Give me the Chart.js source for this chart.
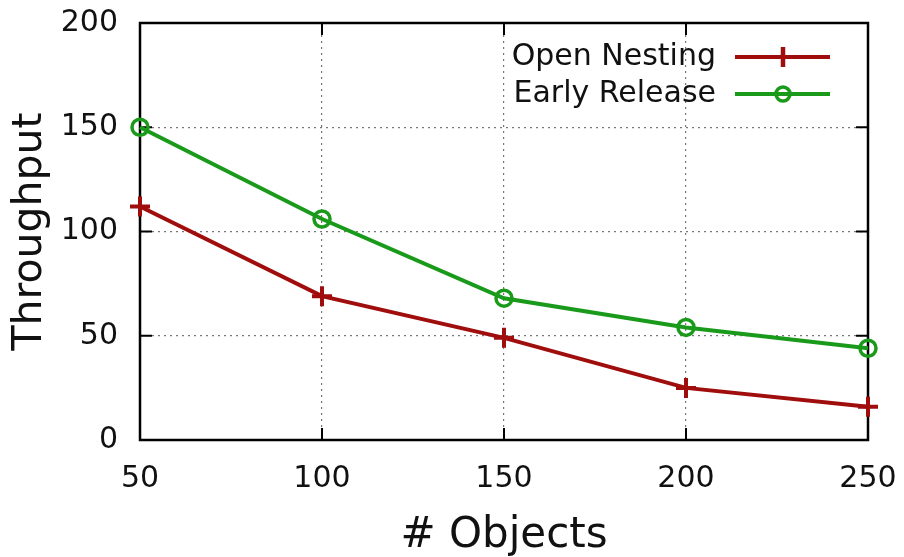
<!DOCTYPE html>
<html>
<head>
<meta charset="utf-8">
<script src="https://cdn.jsdelivr.net/npm/chart.js@4/dist/chart.umd.min.js"></script>
<style>
html,body{margin:0;padding:0;background:#fff;}
#wrap{width:904px;height:557px;position:relative;}
</style>
</head>
<body>
<div id="wrap"><canvas id="c" width="904" height="557"></canvas></div>
<script>
const objects = [50, 100, 150, 200, 250];
const openNesting = [112, 69, 49, 25, 16];
const earlyRelease = [150, 106, 68, 54, 44];
const seriesNames = ["Open Nesting", "Early Release"];
const xTicks = [50, 100, 150, 200, 250];
const yTicks = [0, 50, 100, 150, 200];

const FONT = "'DejaVu Sans', sans-serif";
const RED = '#a00d0d';
const GREEN = '#1a9a1a';

const frame = {
  id: 'frame',
  beforeDatasetsDraw(chart) {
    const {ctx, chartArea: a, scales: {x, y}} = chart;
    ctx.save();
    ctx.strokeStyle = '#000';
    ctx.lineWidth = 2;
    ctx.beginPath();
    xTicks.forEach(v => {
      const px = x.getPixelForValue(v);
      ctx.moveTo(px, a.bottom); ctx.lineTo(px, a.bottom - 12);
      ctx.moveTo(px, a.top); ctx.lineTo(px, a.top + 12);
    });
    yTicks.forEach(v => {
      const py = y.getPixelForValue(v);
      ctx.moveTo(a.left, py); ctx.lineTo(a.left + 12, py);
      ctx.moveTo(a.right, py); ctx.lineTo(a.right - 12, py);
    });
    ctx.stroke();
    ctx.lineWidth = 2.5;
    ctx.strokeRect(a.left, a.top, a.right - a.left, a.bottom - a.top);
    ctx.restore();
  },
  afterDatasetsDraw(chart) {
    const ctx = chart.ctx;
    ctx.save();
    ctx.font = "30px " + FONT;
    ctx.textAlign = 'right';
    ctx.textBaseline = 'middle';
    const rows = [57, 94];
    chart.data.datasets.forEach((ds, i) => {
      const yy = rows[i];
      ctx.fillStyle = '#111';
      ctx.fillText(ds.label, 716, yy);
      ctx.strokeStyle = ds.borderColor;
      ctx.lineWidth = 4;
      ctx.beginPath(); ctx.moveTo(735, yy); ctx.lineTo(830, yy); ctx.stroke();
      if (i === 0) {
        ctx.lineWidth = 4.5;
        ctx.beginPath(); ctx.moveTo(783, yy - 10); ctx.lineTo(783, yy + 10); ctx.stroke();
      } else {
        ctx.lineWidth = 3.5;
        ctx.beginPath(); ctx.arc(783, yy, 7, 0, Math.PI * 2); ctx.stroke();
      }
    });
    ctx.restore();
  }
};

new Chart(document.getElementById('c'), {
  type: 'line',
  data: {
    datasets: [
      {
        label: seriesNames[0],
        data: objects.map((v, i) => ({x: v, y: openNesting[i]})),
        borderColor: RED, backgroundColor: RED,
        borderWidth: 4, pointStyle: 'cross', pointRadius: 10,
        pointBorderWidth: 4, pointHoverRadius: 10, tension: 0, clip: false
      },
      {
        label: seriesNames[1],
        data: objects.map((v, i) => ({x: v, y: earlyRelease[i]})),
        borderColor: GREEN, backgroundColor: 'rgba(0,0,0,0)',
        borderWidth: 4, pointStyle: 'circle', pointRadius: 8,
        pointBorderWidth: 3.5, pointHoverRadius: 8, tension: 0, clip: false
      }
    ]
  },
  options: {
    responsive: false,
    animation: false,
    layout: {padding: {top: 23, right: 36, left: 0, bottom: 0}},
    plugins: {legend: {display: false}, tooltip: {enabled: false}},
    scales: {
      x: {
        type: 'linear', min: 50, max: 250,
        afterBuildTicks(s) { s.ticks = xTicks.map(v => ({value: v})); },
        afterFit(s) { s.height = 117; s.paddingLeft = 0; s.paddingRight = 0; },
        grid: {color: '#777', lineWidth: 1.2, drawTicks: false},
        border: {display: false, dash: [2, 4]},
        ticks: {font: {family: FONT, size: 30}, color: '#111', padding: 21},
        title: {display: true, text: '# Objects', font: {family: FONT, size: 42, lineHeight: 1.0}, color: '#111', padding: 0}
      },
      y: {
        type: 'linear', min: 0, max: 200,
        afterBuildTicks(s) { s.ticks = yTicks.map(v => ({value: v})); },
        afterFit(s) { s.width = 140; s.paddingTop = 0; s.paddingBottom = 0; },
        grid: {color: '#777', lineWidth: 1.2, drawTicks: false},
        border: {display: false, dash: [2, 4]},
        ticks: {font: {family: FONT, size: 30}, color: '#111', padding: 22},
        title: {display: true, text: 'Throughput', font: {family: FONT, size: 41}, color: '#111', padding: 6}
      }
    }
  },
  plugins: [frame]
});
</script>
</body>
</html>
